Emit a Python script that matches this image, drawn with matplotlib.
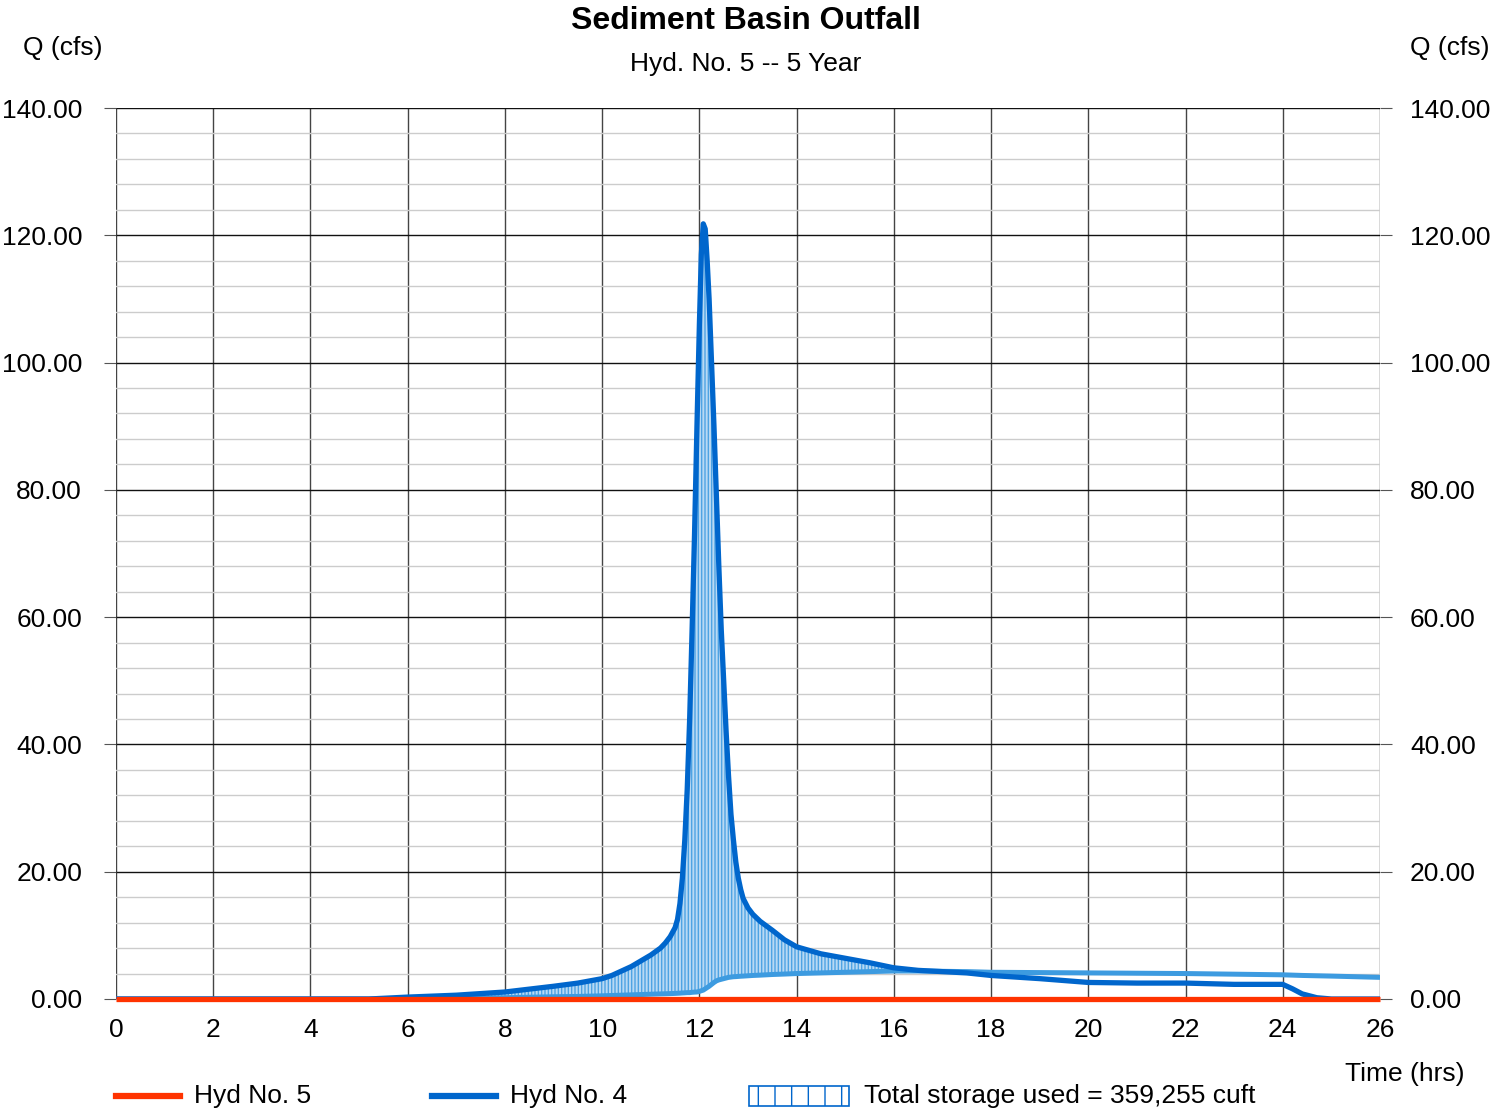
import matplotlib
matplotlib.use('Agg')
import matplotlib.pyplot as plt
import matplotlib.transforms as mtransforms
from matplotlib.patches import Rectangle
from matplotlib.lines import Line2D

plt.rcParams['font.family'] = ['Liberation Sans', 'DejaVu Sans']
plt.rcParams['hatch.linewidth'] = 1.0

# hydrograph data (hrs, cfs)
time = [0, 5.2, 6, 7, 8, 9, 9.5, 10, 10.2, 10.4, 10.6, 10.8, 11.0, 11.2, 11.3, 11.4, 11.5,
        11.55, 11.6, 11.65, 11.7, 11.75, 11.8, 11.85, 11.9, 11.95, 12.0, 12.04, 12.08,
        12.12, 12.16, 12.2, 12.25, 12.3, 12.35, 12.4, 12.45, 12.5, 12.55, 12.6, 12.65,
        12.7, 12.75, 12.8, 12.85, 12.9, 13.0, 13.1, 13.25, 13.5, 13.75, 14, 14.5, 15,
        15.5, 16, 16.5, 17, 17.5, 18, 19, 20, 21, 22, 23, 24, 24.2, 24.4, 24.7, 25, 26]
hyd4 = [0, 0, 0.3, 0.6, 1.1, 2.0, 2.5, 3.2, 3.7, 4.4, 5.1, 6.0, 6.9, 8.0, 8.8, 9.8, 11.2,
        12.5, 15, 19, 25, 33, 44, 58, 73, 90, 106, 117, 121.8,
        121, 116, 110, 100, 90, 79, 68, 58, 50, 42, 35, 29,
        25, 21.5, 19, 17.2, 15.8, 14.3, 13.3, 12.2, 10.8, 9.3, 8.2, 7.1, 6.4,
        5.7, 4.9, 4.5, 4.3, 4.1, 3.7, 3.2, 2.6, 2.5, 2.5, 2.3, 2.3, 1.6, 0.8, 0.2, 0, 0]
pond_out = [0, 0, 0.05, 0.1, 0.2, 0.35, 0.4, 0.5, 0.55, 0.6, 0.65, 0.7, 0.75, 0.8, 0.82, 0.85, 0.88,
            0.9, 0.92, 0.95, 0.97, 1.0, 1.0, 1.05, 1.08, 1.1, 1.2, 1.3, 1.4,
            1.6, 1.8, 2.0, 2.3, 2.6, 2.85, 3.0, 3.1, 3.2, 3.3, 3.4, 3.45,
            3.5, 3.52, 3.55, 3.58, 3.6, 3.65, 3.7, 3.75, 3.85, 3.92, 4.0, 4.1, 4.2,
            4.3, 4.4, 4.4, 4.35, 4.3, 4.2, 4.15, 4.1, 4.05, 4.0, 3.9, 3.8, 3.75, 3.7, 3.65, 3.6, 3.4]
hyd5 = [0] * len(time)

xticks = list(range(0, 27, 2))
yticks = list(range(0, 141, 20))

RED = '#ff3300'
BLUE = '#0066cc'
LBLUE = '#3d9be0'
FS = 19

fig = plt.figure(figsize=(14.91, 11.1), dpi=100)
ax = fig.add_axes([116/1491, 1 - 999/1110, 1264/1491, 891/1110])

# storage hatch
ax.fill_between(time, pond_out, hyd4, where=[a > b for a, b in zip(hyd4, pond_out)],
                interpolate=True, facecolor='#b8d9f4', edgecolor='#4ea3e3',
                hatch='|||||', linewidth=0, zorder=2)

ax.plot(time, pond_out, color=LBLUE, lw=3.6, zorder=3, solid_capstyle='butt')
ax.plot(time, hyd4, color=BLUE, lw=3.8, zorder=4)
ax.plot(time, hyd5, color=RED, lw=3.8, zorder=5, clip_on=False, solid_capstyle='butt')

ax.set_xlim(0, 26)
ax.set_ylim(0, 140)
ax.set_xticks(xticks)
ax.set_yticks(yticks)
ax.set_yticks(range(0, 141, 4), minor=True)
ax.set_yticklabels([f'{v:.2f}' for v in yticks])
ax.grid(which='major', axis='y', color='#111111', lw=1.0, zorder=1)
ax.grid(which='minor', axis='y', color='#cccccc', lw=1.0, zorder=0)
ax.grid(which='major', axis='x', color='#444444', lw=1.0, zorder=1)
for s in ax.spines.values():
    s.set_visible(False)
ax.tick_params(axis='y', which='major', left=True, right=True, labelright=True,
               length=8.6, color='#555555', labelsize=FS, pad=13)
ax.tick_params(axis='y', which='minor', length=0)
ax.tick_params(axis='x', length=0, labelsize=FS, pad=14)

# nudge only the left labels a little further out
shift = mtransforms.ScaledTranslation(-4/100, 0, fig.dpi_scale_trans)
for tk in ax.yaxis.get_major_ticks():
    tk.label1.set_transform(tk.label1.get_transform() + shift)

fig.text(0.5, 1 - 21/1110, 'Sediment Basin Outfall', ha='center', va='center',
         fontsize=23, fontweight='bold')
fig.text(0.5, 1 - 64/1110, 'Hyd. No. 5 -- 5 Year', ha='center', va='center', fontsize=FS)
fig.text(63/1491, 1 - 48/1110, 'Q (cfs)', ha='center', va='center', fontsize=FS)
fig.text(1450/1491, 1 - 48/1110, 'Q (cfs)', ha='center', va='center', fontsize=FS)
fig.text(1405/1491, 1 - 1074/1110, 'Time (hrs)', ha='center', va='center', fontsize=FS)

# legend
ly = 1 - 1096/1110
fig.add_artist(Line2D([116/1491, 180/1491], [ly, ly], color=RED, lw=4.5))
fig.text(194/1491, ly, 'Hyd No. 5', va='center', fontsize=FS)
fig.add_artist(Line2D([432/1491, 496/1491], [ly, ly], color=BLUE, lw=4.5))
fig.text(510/1491, ly, 'Hyd No. 4', va='center', fontsize=FS)
fig.add_artist(Rectangle((749/1491, 1 - 1106/1110), 100/1491, 20/1110,
                         facecolor='white', edgecolor=BLUE, hatch='|', lw=1.2,
                         transform=fig.transFigure))
fig.text(864/1491, ly, 'Total storage used = 359,255 cuft', va='center', fontsize=FS)

fig.savefig('out.png', dpi=100)
plt.close(fig)
